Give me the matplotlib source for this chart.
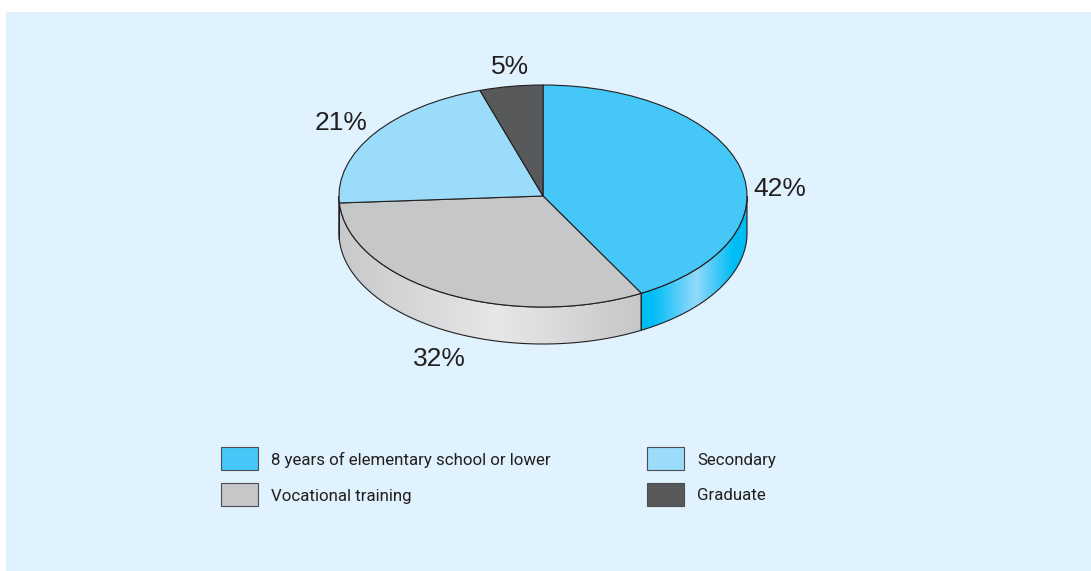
#!/usr/bin/env python3
"""Pseudo-3D pie of education level, drawn on a pixel-sized canvas."""

import numpy as np
import matplotlib
matplotlib.use("Agg")
import matplotlib.pyplot as plt
from matplotlib.colors import LinearSegmentedColormap
from matplotlib.patches import Polygon, Rectangle, Wedge
from matplotlib.transforms import Affine2D

CATEGORIES = [
    "8 years of elementary school or lower",
    "Vocational training",
    "Secondary",
    "Graduate",
]
VALUES = [42, 32, 21, 5]
COLORS = ["#45c8f8", "#c6c7c9", "#9bdcfa", "#58595b"]

W, H = 1091, 571
CX, CY = 543, 196
RX, RY = 204, 111
DEPTH = 37
EDGE = "#231f20"
BG = "#dff2fd"

# wall shading, left to right across each visible side
WALL_STOPS = {
    0: [(0, "#00bdf6"), (0.11, "#00bdf6"), (0.52, "#93d9fb"), (0.87, "#00bdf6"), (1, "#00bdf6")],
    1: [(0, "#c8c9cb"), (0.53, "#e6e7e9"), (1, "#c6c7c9")],
    2: [(0, "#c8c9cb"), (1, "#c8c9cb")],
}

LABEL_POS = [(780, 189.5), (439, 358.5), (341, 122.5), (510, 67.5)]
LEGEND_POS = [(221, 447), (221, 483), (647, 447), (647, 483)]

plt.rcParams["font.family"] = ["Liberation Sans", "DejaVu Sans"]

fig = plt.figure(figsize=(W / 100, H / 100), dpi=100, facecolor="white")
ax = fig.add_axes([0, 0, 1, 1])
ax.set_xlim(0, W)
ax.set_ylim(H, 0)
ax.axis("off")

ax.add_patch(Rectangle((6, 12), W - 6, H - 12, facecolor=BG, edgecolor="none"))

ellipse = Affine2D().scale(RX, -RY).translate(CX, CY) + ax.transData


def rim(theta):
    rad = np.radians(theta)
    return CX + RX * np.cos(rad), CY + RY * -np.sin(rad)


# slice angles, clockwise from twelve o'clock
shares = np.array(VALUES) / sum(VALUES) * 360
ends = 90 - np.cumsum(shares)
starts = np.r_[90, ends[:-1]]

# side walls first, only the part below the ellipse's widest line shows
for i, (t0, t1) in enumerate(zip(starts, ends)):
    hi, lo = min(t0, 0), max(t1, -180)
    if lo >= hi:
        continue
    theta = np.linspace(hi, lo, 160)
    xs, ys = rim(theta)
    pts = np.r_[np.c_[xs, ys], np.c_[xs[::-1], ys[::-1] + DEPTH]]
    outline = Polygon(pts, closed=True, facecolor="none", edgecolor=EDGE, lw=0.8, zorder=3)
    ax.add_patch(outline)
    cmap = LinearSegmentedColormap.from_list(f"wall{i}", WALL_STOPS[i])
    grad = np.linspace(0, 1, 256).reshape(1, -1)
    im = ax.imshow(grad, cmap=cmap, aspect="auto", zorder=2,
                   extent=(xs.min(), xs.max(), ys.max() + DEPTH, ys.min()))
    im.set_clip_path(Polygon(pts, closed=True, transform=ax.transData))

ax.set_xlim(0, W)
ax.set_ylim(H, 0)

# top face
for t0, t1, color in zip(starts, ends, COLORS):
    ax.add_patch(Wedge((0, 0), 1, t1, t0, facecolor=color, edgecolor=EDGE,
                       lw=0.8, transform=ellipse, zorder=4))

for v, (x, y) in zip(VALUES, LABEL_POS):
    ax.text(x, y, f"{v}%", fontsize=19, color=EDGE, ha="center", va="center", zorder=5)

# no narrow Helvetica here, Roboto at a smaller size gets the widths close
for cat, color, (x, y) in zip(CATEGORIES, COLORS, LEGEND_POS):
    ax.add_patch(Rectangle((x, y), 37, 23, facecolor=color, edgecolor="#4d4d4f", lw=0.8))
    ax.text(x + 50, y + 13, cat, fontsize=12.2, color=EDGE, ha="left", va="center",
            family=["Roboto", "DejaVu Sans"])

fig.savefig("out.png", dpi=100, facecolor="white")
